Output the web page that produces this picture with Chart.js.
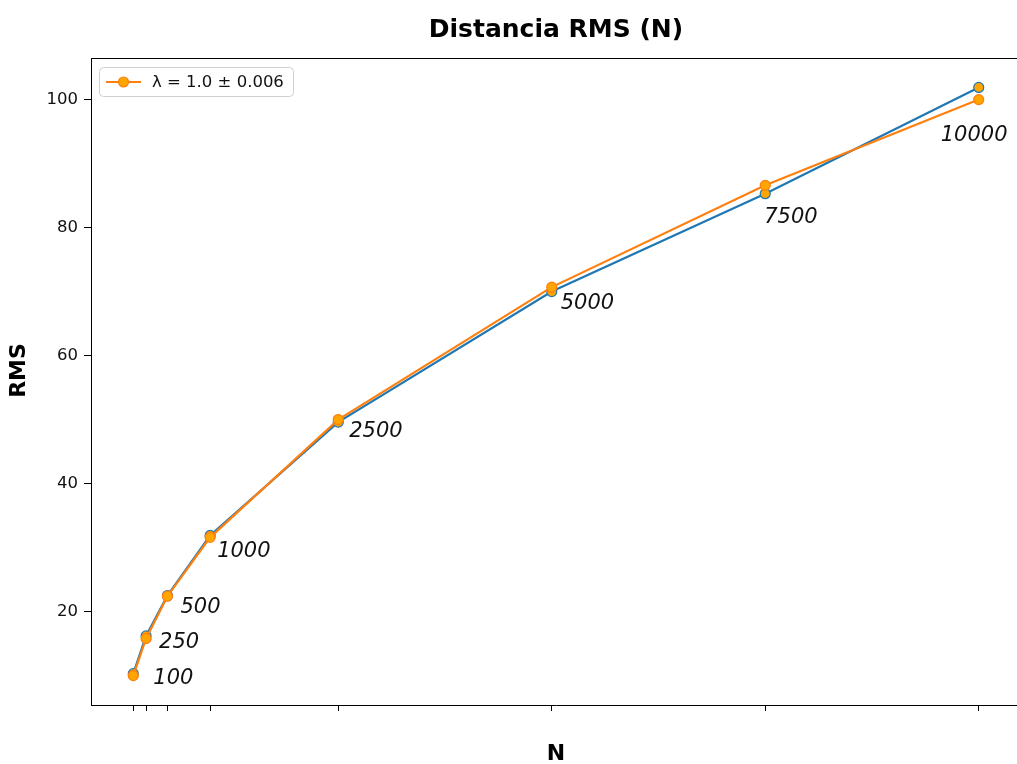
<!DOCTYPE html>
<html>
<head>
<meta charset="utf-8">
<title>Distancia RMS (N)</title>
<script src="https://cdn.jsdelivr.net/npm/chart.js@4/dist/chart.umd.min.js"></script>
<style>
  html, body { margin: 0; padding: 0; background: #fff; overflow: hidden; }
  #wrap { width: 1017px; height: 764px; overflow: hidden; position: relative; }
  canvas { display: block; }
</style>
</head>
<body>
<div id="wrap"><canvas id="rms-chart" width="1050" height="764"></canvas></div>
<script>
// Number of steps N and the RMS distance measured / fitted for each
const stepsN = [100, 250, 500, 1000, 2500, 5000, 7500, 10000];
const rmsMeasured = [10.3, 16.2, 22.5, 31.9, 49.6, 70.0, 85.3, 101.9];
const rmsFit = [10.0, 15.8, 22.4, 31.6, 50.0, 70.7, 86.6, 100.0];
const yTicks = [20, 40, 60, 80, 100];
const fitLabel = 'λ = 1.0 ± 0.006';

// where each N label sits relative to its point (px right, px down to baseline)
const labelOffsets = [[20, 8], [13, 10], [13, 17], [7, 20], [11, 17], [9, 22], [-1, 38], [-38, 41]];

const BLUE = '#1f77b4';
const ORANGE = '#ff7f0e';
const FACE = '#ffa500';
const FONT = '"DejaVu Sans", sans-serif';

const toPoints = ys => stepsN.map((n, i) => ({ x: n, y: ys[i] }));

const decorations = {
  id: 'decorations',
  afterDraw(chart) {
    const { ctx, chartArea: a, scales } = chart;
    ctx.save();

    // top and right spines
    ctx.strokeStyle = '#000';
    ctx.lineWidth = 1;
    ctx.beginPath();
    ctx.moveTo(a.left, a.top + 0.5);
    ctx.lineTo(a.right, a.top + 0.5);
    ctx.lineTo(a.right, a.bottom);
    ctx.stroke();

    // N labels next to each point
    ctx.fillStyle = '#111';
    ctx.font = `italic 21px ${FONT}`;
    ctx.textBaseline = 'alphabetic';
    ctx.textAlign = 'left';
    stepsN.forEach((n, i) => {
      const px = scales.x.getPixelForValue(n);
      const py = scales.y.getPixelForValue(rmsFit[i]);
      ctx.fillText(String(n), px + labelOffsets[i][0], py + labelOffsets[i][1]);
    });

    // title and axis titles
    const cx = (a.left + a.right) / 2;
    ctx.fillStyle = '#000';
    ctx.textAlign = 'center';
    ctx.font = `bold 25px ${FONT}`;
    ctx.fillText('Distancia RMS (N)', cx, 37);
    ctx.font = `bold 22px ${FONT}`;
    ctx.fillText('N', cx, 760);
    ctx.save();
    ctx.translate(25, (a.top + a.bottom) / 2 - 11);
    ctx.rotate(-Math.PI / 2);
    ctx.fillText('RMS', 0, 0);
    ctx.restore();

    // legend box (fit series only)
    const lx = a.left + 8, ly = a.top + 9, lw = 194, lh = 29;
    ctx.fillStyle = 'rgba(255,255,255,0.8)';
    ctx.strokeStyle = '#d0d0d0';
    ctx.beginPath();
    ctx.roundRect(lx + 0.5, ly + 0.5, lw, lh, 4);
    ctx.fill();
    ctx.stroke();
    const my = ly + lh / 2 + 0.5;
    ctx.strokeStyle = ORANGE;
    ctx.lineWidth = 2;
    ctx.beginPath();
    ctx.moveTo(lx + 7, my);
    ctx.lineTo(lx + 42, my);
    ctx.stroke();
    ctx.fillStyle = FACE;
    ctx.lineWidth = 1.2;
    ctx.beginPath();
    ctx.arc(lx + 24.5, my, 5, 0, Math.PI * 2);
    ctx.fill();
    ctx.stroke();
    ctx.fillStyle = '#111';
    ctx.textAlign = 'left';
    ctx.textBaseline = 'middle';
    ctx.font = `16.5px ${FONT}`;
    ctx.fillText(fitLabel, lx + 53, my + 1);

    ctx.restore();
  }
};

new Chart(document.getElementById('rms-chart'), {
  type: 'line',
  data: {
    datasets: [
      {
        label: fitLabel,
        data: toPoints(rmsFit),
        order: 0,
        borderColor: ORANGE,
        borderWidth: 2.2,
        pointRadius: 5,
        pointBorderWidth: 1.2,
        pointBackgroundColor: FACE,
        pointBorderColor: ORANGE,
        tension: 0
      },
      {
        label: 'RMS',
        data: toPoints(rmsMeasured),
        order: 1,
        borderColor: BLUE,
        borderWidth: 2.2,
        pointRadius: 5,
        pointBorderWidth: 1.2,
        pointBackgroundColor: FACE,
        pointBorderColor: BLUE,
        tension: 0
      }
    ]
  },
  options: {
    responsive: false,
    animation: false,
    devicePixelRatio: 1,
    layout: { padding: { top: 58, right: 29, left: 0, bottom: 0 } },
    plugins: { legend: { display: false }, title: { display: false }, tooltip: { enabled: false } },
    scales: {
      x: {
        type: 'linear',
        min: -395,
        max: 10495,
        afterBuildTicks: s => { s.ticks = stepsN.map(v => ({ value: v })); },
        afterFit: s => { s.height = 59; },
        ticks: { callback: () => '', padding: 0 },
        grid: { display: true, drawOnChartArea: false, drawTicks: true, tickLength: 6, color: '#000', lineWidth: 1 },
        border: { display: true, color: '#000', width: 1 }
      },
      y: {
        min: 5.4,
        max: 106.5,
        afterBuildTicks: s => { s.ticks = yTicks.map(v => ({ value: v })); },
        afterFit: s => { s.width = 91; },
        ticks: { color: '#111', padding: 6, font: { family: FONT, size: 16.5 } },
        grid: { display: true, drawOnChartArea: false, drawTicks: true, tickLength: 7, color: '#000', lineWidth: 1 },
        border: { display: true, color: '#000', width: 1 }
      }
    }
  },
  plugins: [decorations]
});
</script>
</body>
</html>
